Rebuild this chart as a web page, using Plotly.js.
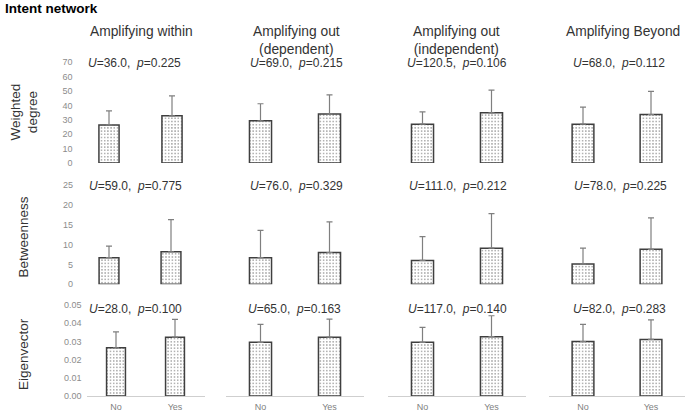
<!DOCTYPE html>
<html>
<head>
<meta charset="utf-8">
<script src="https://cdn.plot.ly/plotly-3.0.1.min.js"></script>
<style>html,body{margin:0;padding:0;background:#fff;}#chart{width:685px;height:416px;}</style>
</head>
<body>
<div id="chart"></div>
<script>
// ---- data ----
const groups = ['No', 'Yes'];
const columnTitles = ['Amplifying within', 'Amplifying out<br>(dependent)', 'Amplifying out<br>(independent)', 'Amplifying Beyond'];
const rowTitles = ['Weighted<br>degree', 'Betweenness', 'Eigenvector'];

const degreeMean = [[26.5, 32.8], [29.3, 34.0], [27.0, 34.9], [27.0, 33.7]];
const degreeErr  = [[9.8, 13.9], [11.9, 13.4], [8.6, 15.8], [11.8, 16.1]];
const degreeU = ['36.0', '69.0', '120.5', '68.0'];
const degreeP = ['0.225', '0.215', '0.106', '0.112'];

const betweenMean = [[6.7, 8.2], [6.7, 8.0], [6.0, 9.1], [5.1, 8.8]];
const betweenErr  = [[2.9, 8.1], [6.9, 7.7], [6.0, 8.7], [4.0, 7.9]];
const betweenU = ['59.0', '76.0', '111.0', '78.0'];
const betweenP = ['0.775', '0.329', '0.212', '0.225'];

const eigenMean = [[0.0265, 0.0323], [0.0295, 0.0323], [0.0295, 0.0326], [0.0299, 0.0311]];
const eigenErr  = [[0.0087, 0.0098], [0.0099, 0.0099], [0.0082, 0.0115], [0.0095, 0.0107]];
const eigenU = ['28.0', '65.0', '117.0', '82.0'];
const eigenP = ['0.100', '0.163', '0.140', '0.283'];

// ---- layout helpers ----
const W = 685, H = 416;
const px = x => x / W;
const py = y => 1 - y / H;
const FONT = 'Arial, "Liberation Sans", sans-serif';

const rows = [
  {mean: degreeMean, err: degreeErr, U: degreeU, P: degreeP, range: [0, 70], dtick: 10, fmt: 'd'},
  {mean: betweenMean, err: betweenErr, U: betweenU, P: betweenP, range: [0, 25], dtick: 5, fmt: 'd'},
  {mean: eigenMean, err: eigenErr, U: eigenU, P: eigenP, range: [0, 0.05], dtick: 0.01, fmt: '.2f'}
];
const yDom = [[62.3, 163], [185, 284.3], [305, 396]];
const xDom = [
  [[77.5, 203.5], [226, 364], [388, 526], [549, 685]],
  [[78, 202], [226, 364], [388, 526], [549, 685]],
  [[86.5, 204.5], [226, 364], [388, 526], [549, 685]]
];
const statPos = [
  [[134.7, 63.3], [296.2, 63.3], [457, 63.3], [619, 63.3]],
  [[135, 185.5], [296, 186], [458, 186], [620.5, 186]],
  [[135.3, 308.5], [294.5, 309.3], [457.7, 309.3], [619.5, 309.3]]
];
const colTitlePos = [[141.7, 31.7], [296.3, 40], [456, 40], [623.3, 31.7]];
const rowTitlePos = [[24.5, 112], [22.5, 237], [23, 354]];

const data = [];
const layout = {
  width: W, height: H,
  margin: {l: 0, r: 0, t: 0, b: 0},
  paper_bgcolor: '#fff', plot_bgcolor: 'rgba(0,0,0,0)',
  showlegend: false,
  annotations: [],
  font: {family: FONT}
};

rows.forEach((row, r) => {
  for (let c = 0; c < 4; c++) {
    const k = r * 4 + c + 1;
    const xa = 'x' + (k === 1 ? '' : k), ya = 'y' + (k === 1 ? '' : k);
    const xk = 'xaxis' + (k === 1 ? '' : k), yk = 'yaxis' + (k === 1 ? '' : k);
    data.push({
      type: 'bar', x: groups, y: row.mean[c], xaxis: xa, yaxis: ya,
      width: 0.32,
      marker: {
        color: '#ffffff',
        line: {color: '#3f3f3f', width: 1.5},
        pattern: {shape: '.', fgcolor: '#8f8f8f', bgcolor: '#ffffff', size: 3.2, solidity: 0.16}
      },
      error_y: {type: 'data', symmetric: false, array: row.err[c], arrayminus: [0, 0],
                color: '#7f7f7f', thickness: 1.2, width: 3},
      hoverinfo: 'none'
    });
    const d = xDom[r][c];
    layout[xk] = {
      domain: [px(d[0]), px(d[1])], anchor: ya, type: 'category', range: [-0.5, 1.5],
      showgrid: false, zeroline: false, ticks: '',
      showline: r === 2, linecolor: '#cfcfcf', linewidth: 1,
      showticklabels: r === 2, tickfont: {size: 9, color: '#7f7f7f', family: FONT},
      ticklabelstandoff: 2, fixedrange: true
    };
    layout[yk] = {
      domain: [py(yDom[r][1]), py(yDom[r][0])], anchor: xa, range: row.range,
      showgrid: false, zeroline: false, showline: false, ticks: '',
      tickmode: 'linear', tick0: 0, dtick: row.dtick, tickformat: row.fmt,
      showticklabels: c === 0, tickfont: {size: 9, color: '#8c8c8c', family: FONT},
      ticklabelstandoff: 4, fixedrange: true
    };
    const sp = statPos[r][c];
    layout.annotations.push({
      xref: 'paper', yref: 'paper', x: px(sp[0]), y: py(sp[1]),
      xanchor: 'center', yanchor: 'middle', showarrow: false,
      text: '<i>U</i>=' + row.U[c] + ',\u00a0 <i>p</i>=' + row.P[c],
      font: {size: 12, color: '#333333', family: FONT}
    });
  }
});

columnTitles.forEach((t, c) => {
  layout.annotations.push({
    xref: 'paper', yref: 'paper', x: px(colTitlePos[c][0]), y: py(colTitlePos[c][1]),
    xanchor: 'center', yanchor: 'middle', showarrow: false, text: t,
    font: {size: 13.8, color: '#333333', family: FONT}
  });
});
rowTitles.forEach((t, r) => {
  layout.annotations.push({
    xref: 'paper', yref: 'paper', x: px(rowTitlePos[r][0]), y: py(rowTitlePos[r][1]),
    xanchor: 'center', yanchor: 'middle', showarrow: false, text: t, textangle: -90,
    font: {size: 13.5, color: '#333333', family: FONT}
  });
});
layout.annotations.push({
  xref: 'paper', yref: 'paper', x: px(3), y: py(8.5),
  xanchor: 'left', yanchor: 'middle', showarrow: false, text: '<b>Intent network</b>',
  font: {size: 13.5, color: '#000000', family: FONT}
});

Plotly.newPlot('chart', data, layout, {staticPlot: true, displayModeBar: false});
</script>
</body>
</html>
